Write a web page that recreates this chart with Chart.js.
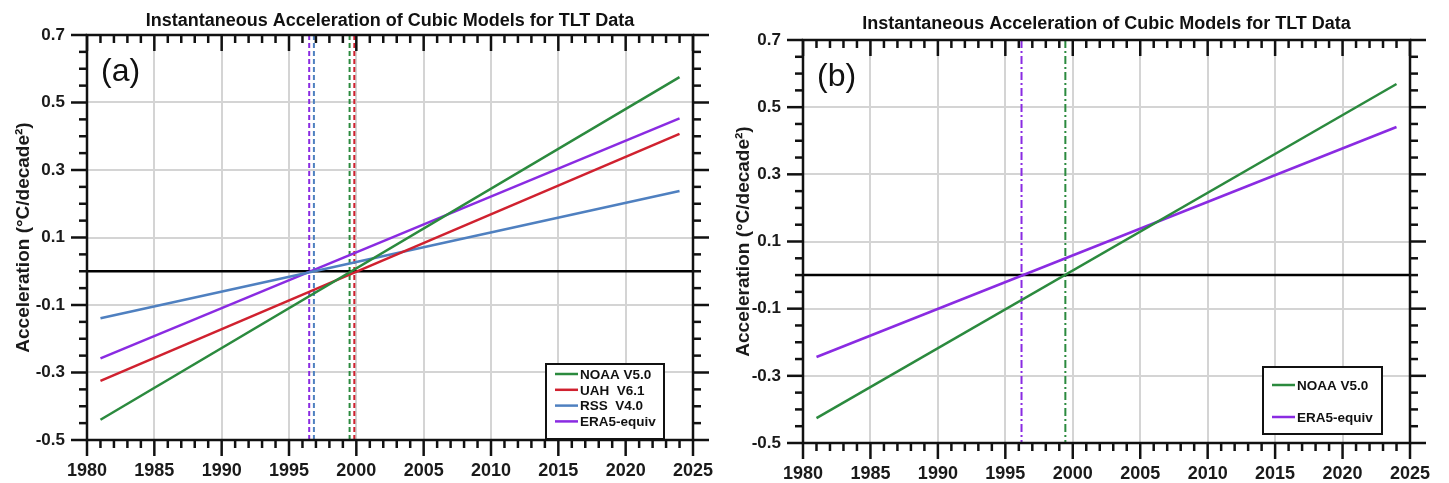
<!DOCTYPE html>
<html>
<head>
<meta charset="utf-8">
<title>Instantaneous Acceleration of Cubic Models for TLT Data</title>
<script src="https://cdn.jsdelivr.net/npm/chart.js@4.4.1/dist/chart.umd.min.js"></script>
<style>
  body { margin: 0; background: #fff; }
  #wrap { position: relative; width: 1449px; height: 483px; }
  .panel { position: absolute; top: 0; }
  #pa { left: 0; }
  #pb { left: 720px; }
</style>
</head>
<body>
<div id="wrap">
  <div class="panel" id="pa"><canvas id="chartA" width="720" height="483"></canvas></div>
  <div class="panel" id="pb"><canvas id="chartB" width="729" height="483"></canvas></div>
</div>
<script>
// data (lines are straight, so start and end points)
const years = [1981, 2024];
const noaaA = [-0.44, 0.575];
const uahA = [-0.325, 0.407];
const rssA = [-0.139, 0.238];
const era5A = [-0.258, 0.453];
// zero crossings (dashed verticals): ERA5, RSS, NOAA, UAH
const crossA = [1996.5, 1996.85, 1999.5, 1999.85];

const noaaB = [-0.426, 0.569];
const era5B = [-0.244, 0.441];
const crossB = [1996.2, 1999.45];

const xTicks = [1980, 1985, 1990, 1995, 2000, 2005, 2010, 2015, 2020, 2025];
const yTicks = [-0.5, -0.3, -0.1, 0.1, 0.3, 0.5, 0.7];

const GREEN = '#2b8a3e';
const RED = '#d0212f';
const BLUE = '#4f80c0';
const PURPLE = '#8a2be2';
const FONT = "'Liberation Sans', Arial, sans-serif";

function pts(vals) {
  return years.map((yr, i) => ({ x: yr, y: vals[i] }));
}

function line(ctx, x1, y1, x2, y2) {
  ctx.beginPath();
  ctx.moveTo(x1, y1);
  ctx.lineTo(x2, y2);
  ctx.stroke();
}

// draws the dashed verticals, zero line, frame with ticks, legend, title and panel label
const decor = {
  id: 'decor',
  beforeDatasetsDraw(chart, args, opts) {
    const { ctx, chartArea: a, scales: { x, y } } = chart;
    ctx.save();
    ctx.lineWidth = 2;
    ctx.setLineDash(opts.dash);
    opts.cross.forEach((yr, i) => {
      const px = x.getPixelForValue(yr);
      ctx.strokeStyle = opts.crossColors[i];
      line(ctx, px, a.top, px, a.bottom);
    });
    ctx.setLineDash([]);
    ctx.strokeStyle = '#000';
    ctx.lineWidth = 2.5;
    const py0 = y.getPixelForValue(0);
    line(ctx, a.left, py0, a.right, py0);
    ctx.restore();
  },
  afterDatasetsDraw(chart, args, opts) {
    const { ctx, chartArea: a, scales: { x, y } } = chart;
    ctx.save();
    ctx.strokeStyle = '#111';
    ctx.lineWidth = 2.5;
    ctx.strokeRect(a.left, a.top, a.right - a.left, a.bottom - a.top);

    // y ticks, both sides outward
    for (let v = -0.5; v <= 0.7001; v += 0.05) {
      const py = y.getPixelForValue(v);
      const major = yTicks.some(t => Math.abs(t - v) < 1e-6);
      const len = major ? 16 : 8;
      line(ctx, a.left - len, py, a.left, py);
      line(ctx, a.right, py, a.right + len, py);
    }
    // x ticks, bottom outward, top inward
    for (let yr = 1980; yr <= 2025; yr++) {
      const px = x.getPixelForValue(yr);
      const len = yr % 5 === 0 ? 16 : 8;
      line(ctx, px, a.bottom, px, a.bottom + len);
      line(ctx, px, a.top, px, a.top + len);
    }

    // title
    ctx.fillStyle = '#111';
    ctx.font = 'bold 18px ' + FONT;
    ctx.textAlign = 'center';
    ctx.textBaseline = 'alphabetic';
    ctx.fillText('Instantaneous Acceleration of Cubic Models for TLT Data', (a.left + a.right) / 2, a.top - opts.titleGap);

    // panel label
    ctx.font = '32px ' + FONT;
    ctx.textAlign = 'left';
    ctx.fillText(opts.panel, a.left + 14, a.top + 45.5);

    // legend box
    const lg = opts.legend;
    const bx = a.right - lg.right - lg.w;
    const by = a.bottom - lg.bottom - lg.h;
    ctx.fillStyle = '#fff';
    ctx.fillRect(bx, by, lg.w, lg.h);
    ctx.lineWidth = 2;
    ctx.strokeStyle = '#111';
    ctx.strokeRect(bx, by, lg.w, lg.h);
    ctx.font = 'bold 13.5px ' + FONT;
    ctx.textBaseline = 'middle';
    lg.order.forEach((di, i) => {
      const ds = chart.data.datasets[di];
      const ry = by + lg.first + i * lg.step;
      ctx.strokeStyle = ds.borderColor;
      ctx.lineWidth = 2.5;
      line(ctx, bx + 9, ry, bx + 32, ry);
      ctx.fillStyle = '#111';
      ctx.fillText(ds.label, bx + 34, ry + 1);
    });
    ctx.restore();
  }
};

function makeChart(id, datasets, layout, decorOpts) {
  return new Chart(document.getElementById(id), {
    type: 'line',
    data: { datasets: datasets },
    plugins: [decor],
    options: {
      responsive: false,
      animation: false,
      layout: { padding: { left: 0, right: layout.right, top: layout.top, bottom: 0 } },
      plugins: {
        legend: { display: false },
        tooltip: { enabled: false },
        decor: decorOpts
      },
      elements: { point: { radius: 0 }, line: { borderWidth: 2.5, tension: 0 } },
      scales: {
        x: {
          type: 'linear',
          min: 1980,
          max: 2025,
          afterBuildTicks: s => { s.ticks = xTicks.map(v => ({ value: v })); },
          afterFit: s => {
            s.height = layout.xHeight;
            s.paddingLeft = 0;
            s.paddingRight = 0;
          },
          grid: { color: '#d4d4d4', lineWidth: 2, drawTicks: false },
          border: { display: false },
          ticks: {
            autoSkip: false,
            maxRotation: 0,
            padding: 20,
            color: '#1a1a1a',
            font: { family: FONT, size: 18, weight: 'bold' },
            callback: v => String(v)
          }
        },
        y: {
          min: -0.5,
          max: 0.7,
          afterBuildTicks: s => { s.ticks = yTicks.map(v => ({ value: v })); },
          afterFit: s => {
            s.width = layout.yWidth;
            s.paddingTop = 0;
            s.paddingBottom = 0;
          },
          grid: { color: '#d4d4d4', lineWidth: 2, drawTicks: false },
          border: { display: false },
          title: {
            display: true,
            text: 'Acceleration (°C/decade²)',
            color: '#1a1a1a',
            font: { family: FONT, size: 19, weight: 'bold' },
            padding: { top: 12, bottom: 0 }
          },
          ticks: {
            autoSkip: false,
            padding: 22,
            color: '#1a1a1a',
            font: { family: FONT, size: 17, weight: 'bold' },
            callback: v => v.toFixed(1)
          }
        }
      }
    }
  });
}

makeChart('chartA', [
  { label: 'NOAA V5.0', data: pts(noaaA), borderColor: GREEN },
  { label: 'UAH  V6.1', data: pts(uahA), borderColor: RED },
  { label: 'RSS  V4.0', data: pts(rssA), borderColor: BLUE },
  { label: 'ERA5-equiv', data: pts(era5A), borderColor: PURPLE }
], { right: 27, top: 35, yWidth: 87, xHeight: 43 }, {
  panel: '(a)',
  titleGap: 9,
  cross: crossA,
  crossColors: [PURPLE, BLUE, GREEN, RED],
  dash: [5, 3],
  legend: { w: 118, h: 75, right: 29, bottom: 1, first: 10, step: 15.8, order: [0, 1, 2, 3] }
});

makeChart('chartB', [
  { label: 'NOAA V5.0', data: pts(noaaB), borderColor: GREEN },
  { label: 'ERA5-equiv', data: pts(era5B), borderColor: PURPLE }
], { right: 39, top: 40, yWidth: 83, xHeight: 40 }, {
  panel: '(b)',
  titleGap: 11,
  cross: crossB,
  crossColors: [PURPLE, GREEN],
  dash: [8, 3, 2, 3],
  legend: { w: 119, h: 67, right: 28, bottom: 9, first: 18, step: 32, order: [0, 1] }
});
</script>
</body>
</html>
